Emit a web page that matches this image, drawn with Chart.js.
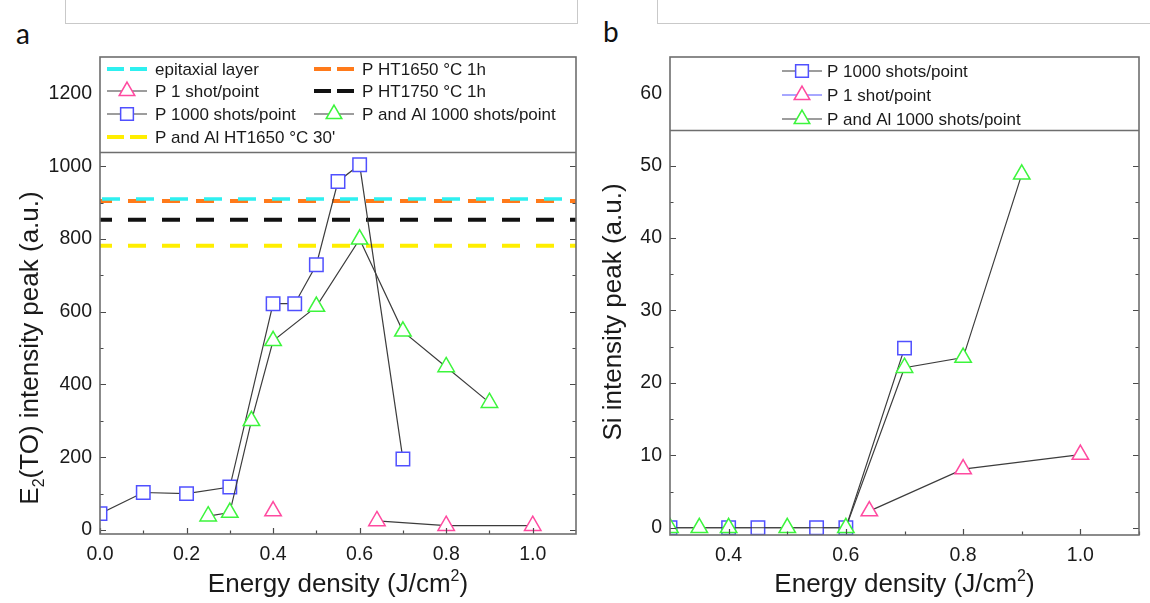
<!DOCTYPE html>
<html>
<head>
<meta charset="utf-8">
<script src="https://cdn.jsdelivr.net/npm/chart.js@4.4.1/dist/chart.umd.min.js"></script>
<style>
  body { margin: 0; background: #fff; width: 1150px; height: 603px; position: relative; overflow: hidden; }
  .wrap { position: absolute; top: 0; height: 603px; }
  #wrapA { left: 0; width: 590px; }
  #wrapB { left: 590px; width: 560px; }
  .topbox { position: absolute; top: -2px; height: 25px; border: 1px solid #c9c9c9; border-top: none; }
  .panel { position: absolute; font-family: Lato, 'Open Sans', sans-serif; font-size: 28px; color: #111; }
</style>
</head>
<body>
<div class="topbox" style="left:65px;width:511px"></div>
<div class="topbox" style="left:657px;width:520px"></div>
<div class="panel" style="left:16px;top:16px">a</div>
<div class="panel" style="left:603px;top:14px">b</div>
<div class="wrap" id="wrapA"><canvas id="chartA" width="590" height="603"></canvas></div>
<div class="wrap" id="wrapB"><canvas id="chartB" width="560" height="603"></canvas></div>
<script>
// ---- panel a : E2(TO) intensity peak ----
const a1000X = [0.0, 0.1, 0.2, 0.3, 0.4, 0.45, 0.5, 0.55, 0.6, 0.7];
const a1000Y = [45, 103, 100, 118, 622, 622, 729, 958, 1004, 195];
const aAlX = [0.25, 0.3, 0.35, 0.4, 0.5, 0.6, 0.7, 0.8, 0.9];
const aAlY = [38, 48, 300, 520, 614, 799, 546, 448, 350];
const a1shotX = [0.4, 0.52, 0.64, 0.8, 1.0];
const a1shotY = [52, null, 25, 12, 12];   // null = no line between 0.4 and 0.64
const refNames = ['epitaxial layer', 'P HT1650 °C 1h', 'P HT1750 °C 1h', "P and Al HT1650 °C 30'"];
const refValues = [910, 904, 853, 781];
const aXTicks = [0, 0.2, 0.4, 0.6, 0.8, 1.0];
const aXMinor = [0.1, 0.3, 0.5, 0.7, 0.9];
const aYTicks = [0, 200, 400, 600, 800, 1000, 1200];
const aYMinor = [100, 300, 500, 700, 900, 1100];

// ---- panel b : Si intensity peak ----
const b1000X = [0.3, 0.4, 0.45, 0.55, 0.6, 0.7];
const b1000Y = [0, 0, 0, 0, 0, 24.8];
const b1shotX = [0.64, 0.8, 1.0];
const b1shotY = [2.3, 8.1, 10.1];
const bAlX = [0.3, 0.35, 0.4, 0.5, 0.6, 0.7, 0.8, 0.9];
const bAlY = [0, 0, 0, 0, 0, 22.1, 23.5, 48.8];
const bXTicks = [0.4, 0.6, 0.8, 1.0];
const bXMinor = [0.5, 0.7, 0.9, 1.1];
const bYTicks = [0, 10, 20, 30, 40, 50, 60];
const bYMinor = [5, 15, 25, 35, 45, 55];

const FONT = "'Liberation Sans', Arial, sans-serif";
const BLUE = '#5050ff', GREEN = '#3cf53c', PINK = '#ff4aa0', LINE = '#3c3c3c';
const refColors = ['#2ef0f0', '#ff7a1a', '#111111', '#ffee00'];
const refOffsets = [32, 6, 6, 6];

const pts = (xs, ys) => xs.map((x, i) => ({ x: x, y: ys[i] }));

function series(label, xs, ys, color, style, order) {
  return {
    label: label, data: pts(xs, ys), order: order,
    borderColor: LINE, borderWidth: 1.2, spanGaps: false,
    pointStyle: style, pointRadius: 9.5, pointBorderWidth: 1.5,
    pointBorderColor: color, pointBackgroundColor: '#fff'
  };
}

function drawRich(ctx, parts, cx, cy, size, rot) {
  ctx.save();
  ctx.translate(cx, cy);
  ctx.rotate(rot);
  ctx.fillStyle = '#1a1a1a';
  ctx.textBaseline = 'alphabetic';
  const small = Math.round(size * 0.62);
  const widths = parts.map(p => { ctx.font = (p.s ? small : size) + 'px ' + FONT; return ctx.measureText(p.t).width; });
  let x = -widths.reduce((s, w) => s + w, 0) / 2;
  parts.forEach((p, i) => {
    ctx.font = (p.s ? small : size) + 'px ' + FONT;
    const dy = p.s === 'sup' ? -size * 0.42 : (p.s === 'sub' ? size * 0.22 : 0);
    ctx.fillText(p.t, x, size * 0.36 + dy);
    x += widths[i];
  });
  ctx.restore();
}

function deco(cfg) {
  return {
    id: 'deco',
    afterDraw(chart) {
      const ctx = chart.ctx, A = chart.chartArea, xs = chart.scales.x, ys = chart.scales.y;
      ctx.save();
      // inner ticks
      ctx.strokeStyle = '#4a4a4a';
      ctx.lineWidth = 1.2;
      ctx.beginPath();
      const yt = (v, len) => {
        const p = Math.round(ys.getPixelForValue(v)) + 0.5;
        ctx.moveTo(A.left, p); ctx.lineTo(A.left + len, p);
        ctx.moveTo(A.right, p); ctx.lineTo(A.right - len, p);
      };
      const xt = (v, len) => {
        const p = Math.round(xs.getPixelForValue(v)) + 0.5;
        ctx.moveTo(p, A.bottom); ctx.lineTo(p, A.bottom - len);
      };
      cfg.yMajor.forEach(v => yt(v, 6));
      cfg.yMinor.forEach(v => yt(v, 3.5));
      cfg.xMajor.forEach(v => xt(v, 6));
      cfg.xMinor.forEach(v => xt(v, 3.5));
      ctx.stroke();
      // legend box
      const lb = Math.round(ys.getPixelForValue(cfg.legendFloor)) + 0.5;
      ctx.fillStyle = '#fff';
      ctx.fillRect(A.left, A.top, A.right - A.left, lb - A.top);
      ctx.strokeStyle = '#6e6e6e';
      ctx.lineWidth = 1.6;
      ctx.strokeRect(A.left, A.top, A.right - A.left, A.bottom - A.top);
      ctx.beginPath(); ctx.moveTo(A.left, lb); ctx.lineTo(A.right, lb); ctx.stroke();
      // legend entries
      ctx.font = cfg.legendSize + 'px ' + FONT;
      ctx.textBaseline = 'middle';
      cfg.legend.forEach(it => {
        const x0 = A.left + it.dx, y0 = A.top + it.dy;
        if (it.kind === 'dash') {
          ctx.strokeStyle = it.color; ctx.lineWidth = 4;
          ctx.beginPath(); ctx.moveTo(x0, y0); ctx.lineTo(x0 + 17, y0);
          ctx.moveTo(x0 + 23, y0); ctx.lineTo(x0 + 40, y0); ctx.stroke();
        } else {
          ctx.strokeStyle = it.line; ctx.lineWidth = 1.2;
          ctx.beginPath(); ctx.moveTo(x0, y0); ctx.lineTo(x0 + 40, y0); ctx.stroke();
          ctx.strokeStyle = it.color; ctx.fillStyle = '#fff'; ctx.lineWidth = 1.5;
          Chart.helpers.drawPoint(ctx, { pointStyle: it.style, radius: 9, rotation: 0, borderWidth: 1.5 }, x0 + 20, y0);
        }
        ctx.fillStyle = '#1a1a1a';
        ctx.fillText(it.text, x0 + it.tx, y0 + 1);
      });
      // axis titles
      drawRich(ctx, cfg.xTitle, (A.left + A.right) / 2, cfg.xTitleY, cfg.titleSize, 0);
      drawRich(ctx, cfg.yTitle, cfg.yTitleX, cfg.yTitleY, cfg.titleSize, -Math.PI / 2);
      ctx.restore();
    }
  };
}

function axes(xmin, xmax, xTicks, xFmt, ymin, ymax, yTicks, yW, xH) {
  const tickFont = { family: FONT, size: 19.5 };
  return {
    x: {
      type: 'linear', min: xmin, max: xmax,
      grid: { display: false, drawTicks: false }, border: { display: false },
      ticks: { font: tickFont, color: '#1a1a1a', padding: 9, maxRotation: 0, autoSkip: false, callback: v => v.toFixed(xFmt) },
      afterBuildTicks: s => { s.ticks = xTicks.map(v => ({ value: v })); },
      afterFit: s => { s.height = xH; }
    },
    y: {
      type: 'linear', min: ymin, max: ymax,
      grid: { display: false, drawTicks: false }, border: { display: false },
      ticks: { font: tickFont, color: '#1a1a1a', padding: 8, autoSkip: false, callback: v => String(v) },
      afterBuildTicks: s => { s.ticks = yTicks.map(v => ({ value: v })); },
      afterFit: s => { s.width = yW; }
    }
  };
}

const xTitleParts = [{ t: 'Energy density (J/cm' }, { t: '2', s: 'sup' }, { t: ')' }];

// panel a
const refSets = refNames.map((n, i) => ({
  label: n, data: pts([0, 1.1], [refValues[i], refValues[i]]), order: 10,
  borderColor: refColors[i], borderWidth: i === 0 ? 3.5 : 4, borderDash: [18, 16],
  borderDashOffset: refOffsets[i], pointRadius: 0
}));

new Chart(document.getElementById('chartA'), {
  type: 'line',
  data: {
    datasets: [
      series('P 1 shot/point', a1shotX, a1shotY, PINK, 'triangle', 3),
      series('P 1000 shots/point', a1000X, a1000Y, BLUE, 'rect', 2),
      series('P and Al 1000 shots/point', aAlX, aAlY, GREEN, 'triangle', 1)
    ].concat(refSets)
  },
  options: {
    responsive: false, animation: false,
    layout: { padding: { top: 57, right: 14, left: 0, bottom: 0 } },
    plugins: { legend: { display: false }, tooltip: { enabled: false } },
    scales: axes(0, 1.1, aXTicks, 1, -11, 1300, aYTicks, 100, 69)
  },
  plugins: [deco({
    xMajor: aXTicks, xMinor: aXMinor, yMajor: aYTicks, yMinor: aYMinor, legendFloor: 1040,
    legendSize: 17, titleSize: 26,
    xTitle: xTitleParts, xTitleY: 583,
    yTitle: [{ t: 'E' }, { t: '2', s: 'sub' }, { t: '(TO) intensity peak (a.u.)' }], yTitleX: 29, yTitleY: 348,
    legend: [
      { kind: 'dash', color: refColors[0], text: refNames[0], dx: 7, dy: 12, tx: 48 },
      { kind: 'dash', color: refColors[1], text: refNames[1], dx: 214, dy: 12, tx: 48 },
      { kind: 'mark', line: LINE, color: PINK, style: 'triangle', text: 'P 1 shot/point', dx: 7, dy: 34, tx: 48 },
      { kind: 'dash', color: refColors[2], text: refNames[2], dx: 214, dy: 34, tx: 48 },
      { kind: 'mark', line: LINE, color: BLUE, style: 'rect', text: 'P 1000 shots/point', dx: 7, dy: 57, tx: 48 },
      { kind: 'mark', line: LINE, color: GREEN, style: 'triangle', text: 'P and Al 1000 shots/point', dx: 214, dy: 57, tx: 48 },
      { kind: 'dash', color: refColors[3], text: refNames[3], dx: 7, dy: 80, tx: 48 }
    ]
  })]
});

// panel b
new Chart(document.getElementById('chartB'), {
  type: 'line',
  data: {
    datasets: [
      series('P and Al 1000 shots/point', bAlX, bAlY, GREEN, 'triangle', 1),
      series('P 1000 shots/point', b1000X, b1000Y, BLUE, 'rect', 2),
      series('P 1 shot/point', b1shotX, b1shotY, PINK, 'triangle', 3)
    ]
  },
  options: {
    responsive: false, animation: false,
    layout: { padding: { top: 57, right: 2, left: 0, bottom: 0 } },
    plugins: { legend: { display: false }, tooltip: { enabled: false } },
    scales: axes(0.3, 1.1, bXTicks, 1, -1, 65, bYTicks, 80, 68)
  },
  plugins: [deco({
    xMajor: bXTicks, xMinor: bXMinor, yMajor: bYTicks, yMinor: bYMinor, legendFloor: 54.9,
    legendSize: 17, titleSize: 26,
    xTitle: xTitleParts, xTitleY: 583,
    yTitle: [{ t: 'Si intensity peak (a.u.)' }], yTitleX: 22, yTitleY: 312,
    legend: [
      { kind: 'mark', line: LINE, color: BLUE, style: 'rect', text: 'P 1000 shots/point', dx: 112, dy: 14, tx: 45 },
      { kind: 'mark', line: BLUE, color: PINK, style: 'triangle', text: 'P 1 shot/point', dx: 112, dy: 38, tx: 45 },
      { kind: 'mark', line: LINE, color: GREEN, style: 'triangle', text: 'P and Al 1000 shots/point', dx: 112, dy: 62, tx: 45 }
    ]
  })]
});
</script>
</body>
</html>
